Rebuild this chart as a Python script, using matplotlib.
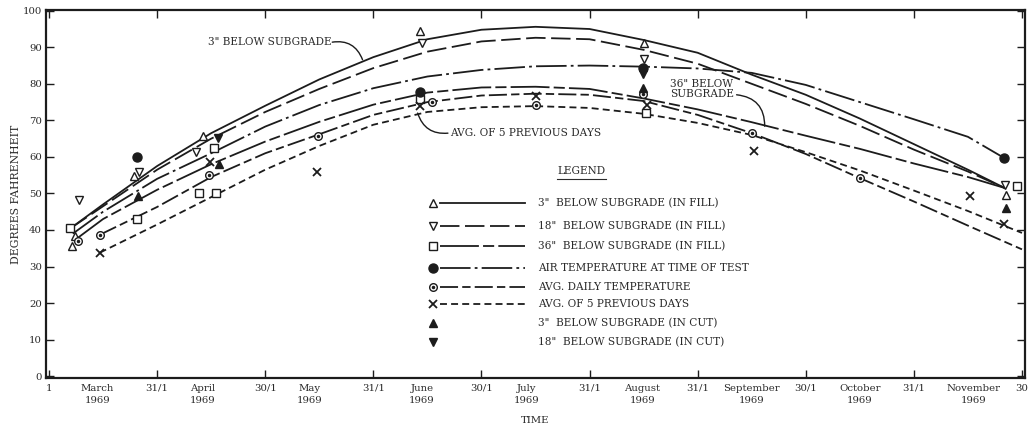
import matplotlib
matplotlib.use("Agg")
import matplotlib.pyplot as plt

plt.rcParams['font.family'] = ['DejaVu Serif', 'Liberation Serif']
plt.rcParams['lines.scale_dashes'] = False

INK = '#1c1c1c'
TXT = '#2a2a2a'

# x is measured in months after 1 March 1969 (0 = Mar 1, 9 = Nov 30)
month_edges = list(range(10))
edge_labels = ['1', '31/1', '30/1', '31/1', '30/1', '31/1', '31/1', '30/1', '31/1', '30']
month_names = ['March', 'April', 'May', 'June', 'July', 'August',
               'September', 'October', 'November']
month_label_pos = [0.45, 1.42, 2.41, 3.45, 4.42, 5.49, 6.50, 7.50, 8.55]
yticks = list(range(0, 101, 10))

# fitted temperature curves (deg F)
grid_m = [0.5, 1.0, 1.5, 2.0, 2.5, 3.0, 3.5, 4.0, 4.5, 5.0, 5.5, 6.0, 6.5, 7.0, 7.5, 8.0, 8.5]

fill3_m = [0.20] + grid_m + [8.84]
fill3_t = [40.5, 47.0, 57.5, 66.5, 74.0, 81.2, 87.3, 92.2, 94.8, 95.6, 95.0, 92.0,
           88.5, 82.5, 77.0, 70.5, 63.5, 56.5, 51.5]

fill18_m = [0.20] + grid_m + [8.84]
fill18_t = [40.5, 46.5, 56.5, 65.0, 72.3, 78.6, 84.3, 88.8, 91.6, 92.6, 92.2, 89.3,
            85.5, 80.0, 74.5, 68.5, 62.0, 56.0, 51.5]

fill36_m = [0.25] + grid_m + [8.84]
fill36_t = [37.5, 43.0, 51.0, 58.0, 64.2, 69.6, 74.3, 77.6, 79.0, 79.2, 78.6, 76.0,
            73.0, 69.5, 65.8, 62.2, 58.2, 54.5, 51.5]

air_m = [0.22] + grid_m + [8.83]
air_t = [39.0, 45.0, 54.0, 61.0, 68.3, 74.2, 78.8, 82.0, 83.8, 84.8, 85.0, 84.7,
         84.2, 83.0, 79.7, 75.0, 70.3, 65.5, 59.8]

daily_m = [0.47] + grid_m[1:] + [9.0]
daily_t = [38.7, 46.3, 54.5, 61.0, 66.2, 71.5, 75.0, 76.8, 77.3, 77.0, 75.3, 71.5,
           66.5, 60.8, 54.2, 47.8, 41.2, 34.7]

prev5_m = [0.47] + grid_m[1:] + [9.0]
prev5_t = [33.8, 41.5, 49.0, 56.5, 63.0, 68.8, 72.3, 73.6, 73.9, 73.4, 71.8, 69.3,
           66.0, 61.3, 56.3, 50.8, 45.2, 39.2]

# individual test readings
pt_fill3_m = [0.21, 0.24, 0.79, 1.42, 3.43, 5.50, 8.85]
pt_fill3_t = [35.5, 38.4, 54.8, 65.8, 94.5, 91.3, 49.5]
pt_fill18_m = [0.28, 0.83, 1.36, 3.45, 5.50, 8.84]
pt_fill18_t = [48.2, 55.8, 61.3, 91.3, 86.8, 52.2]
pt_fill36_m = [0.19, 0.81, 1.39, 1.53, 1.54, 3.43, 5.52, 8.95]
pt_fill36_t = [40.5, 42.9, 50.2, 62.5, 50.2, 75.9, 71.9, 52.1]
pt_air_m = [0.81, 3.43, 5.49, 8.83]
pt_air_t = [60.1, 77.8, 84.4, 59.8]
pt_daily_m = [0.27, 0.47, 1.48, 2.49, 3.54, 4.50, 5.49, 6.50, 7.50]
pt_daily_t = [37.0, 38.7, 55.1, 65.6, 75.1, 74.2, 77.3, 66.5, 54.2]
pt_prev5_m = [0.47, 1.49, 2.48, 3.43, 4.50, 5.53, 6.52, 8.52, 8.83]
pt_prev5_t = [33.8, 58.6, 55.8, 73.8, 76.8, 74.1, 61.5, 49.3, 41.6]
pt_cut3_m = [0.82, 1.57, 5.49, 8.85]
pt_cut3_t = [49.3, 58.0, 78.8, 46.1]
pt_cut18_m = [1.56, 5.49]
pt_cut18_t = [65.2, 82.7]

legend_labels = ['3"  BELOW SUBGRADE (IN FILL)',
                 '18"  BELOW SUBGRADE (IN FILL)',
                 '36"  BELOW SUBGRADE (IN FILL)',
                 'AIR TEMPERATURE AT TIME OF TEST',
                 'AVG. DAILY TEMPERATURE',
                 'AVG. OF 5 PREVIOUS DAYS',
                 '3"  BELOW SUBGRADE (IN CUT)',
                 '18"  BELOW SUBGRADE (IN CUT)']

# line styles (on/off in points)
LS_FILL3 = '-'
LS_FILL18 = (0, (14, 4))
LS_FILL36 = (0, (28, 3, 8, 3))
LS_AIR = (0, (22, 3, 2, 3))
LS_DAILY = (0, (13, 3, 6, 3))
LS_PREV5 = (0, (5, 3))

LW = 1.3
FS = 7.6

fig = plt.figure(figsize=(10.30, 4.32), dpi=100)
ax = fig.add_axes([46 / 1030, (432 - 378) / 432, (1025 - 46) / 1030, (378 - 10) / 432])

ax.plot(fill3_m, fill3_t, color=INK, lw=LW, ls=LS_FILL3)
ax.plot(fill18_m, fill18_t, color=INK, lw=LW, ls=LS_FILL18)
ax.plot(fill36_m, fill36_t, color=INK, lw=LW, ls=LS_FILL36)
ax.plot(air_m, air_t, color=INK, lw=LW, ls=LS_AIR)
ax.plot(daily_m, daily_t, color=INK, lw=LW, ls=LS_DAILY)
ax.plot(prev5_m, prev5_t, color=INK, lw=LW, ls=LS_PREV5)

open_kw = dict(ls='none', mfc='white', mec=INK, mew=1.0, zorder=4)
ax.plot(pt_fill3_m, pt_fill3_t, marker='^', ms=6, **open_kw)
ax.plot(pt_fill18_m, pt_fill18_t, marker='v', ms=6, **open_kw)
ax.plot(pt_fill36_m, pt_fill36_t, marker='s', ms=5.5, **open_kw)
ax.plot(pt_daily_m, pt_daily_t, marker='o', ms=5.5, **open_kw)
ax.plot(pt_daily_m, pt_daily_t, marker='o', ms=1.5, ls='none', color=INK, zorder=5)
ax.plot(pt_prev5_m, pt_prev5_t, marker='x', ms=5.5, mew=1.3, ls='none', color=INK, zorder=4)
ax.plot(pt_air_m, pt_air_t, marker='o', ms=6.5, ls='none', color=INK, zorder=4)
ax.plot(pt_cut3_m, pt_cut3_t, marker='^', ms=6, ls='none', color=INK, zorder=4)
ax.plot(pt_cut18_m, pt_cut18_t, marker='v', ms=6, ls='none', color=INK, zorder=4)

ax.set_xlim(-0.028, 9.028)
ax.set_ylim(-0.5, 100.2)

# axes frame and ticks
for sp in ax.spines.values():
    sp.set_linewidth(1.6)
    sp.set_color(INK)
ax.set_xticks(month_edges)
ax.set_xticklabels(edge_labels)
ax.set_xticks(month_label_pos, minor=True)
ax.set_xticklabels([f'{n}\n1969' for n in month_names], minor=True)
ax.set_yticks(yticks)
ax.set_yticklabels([str(v) for v in yticks])
ax.tick_params(which='major', direction='in', length=6, width=1.0, color=INK,
               top=True, right=True, labelsize=7.3, labelcolor=TXT, pad=4)
ax.tick_params(axis='y', which='major', pad=3)
ax.tick_params(axis='x', which='minor', length=0, labelsize=7.3, labelcolor=TXT, pad=4)
for lab in ax.get_xticklabels(minor=True):
    lab.set_linespacing(1.5)
ax.set_xlabel('TIME', fontsize=7.3, color=TXT)
ax.xaxis.set_label_coords(0.5, -0.104)
ax.set_ylabel('DEGREES FAHRENHEIT', fontsize=7.8, color=TXT)
ax.yaxis.set_label_coords(-0.026, 0.5)

# curve call-outs
txt_kw = dict(fontsize=FS, color=TXT)
lead_kw = dict(arrowstyle='-', color=INK, lw=1.0, shrinkA=0, shrinkB=0)
ax.text(2.61, 91.4, '3" BELOW SUBGRADE', ha='right', va='center', **txt_kw)
ax.annotate('', xy=(2.90, 86.6), xytext=(2.62, 91.4),
            arrowprops=dict(connectionstyle='arc3,rad=-0.4', **lead_kw))
ax.text(5.745, 78.6, '36" BELOW\nSUBGRADE', ha='left', va='center',
        linespacing=1.05, **txt_kw)
ax.annotate('', xy=(6.62, 68.4), xytext=(6.36, 77.0),
            arrowprops=dict(connectionstyle='arc3,rad=-0.45', **lead_kw))
ax.text(3.71, 66.5, 'AVG. OF 5 PREVIOUS DAYS', ha='left', va='center', **txt_kw)
ax.annotate('', xy=(3.41, 72.0), xytext=(3.69, 66.5),
            arrowprops=dict(connectionstyle='arc3,rad=-0.4', **lead_kw))

# legend block
tr = ax.transAxes
ax.text(0.547, 0.5625, 'LEGEND', ha='center', va='center', transform=tr, **txt_kw)
ax.plot([0.522, 0.572], [0.540, 0.540], color=TXT, lw=0.8, transform=tr)
rows_y = [0.4755, 0.413, 0.3587, 0.299, 0.247, 0.201, 0.150, 0.0986]
styles = [LS_FILL3, LS_FILL18, LS_FILL36, LS_AIR, LS_DAILY, LS_PREV5, None, None]
mk_x, ln_x0, ln_x1, tx_x = 0.3953, 0.4025, 0.4893, 0.5026
for i, (y, ls, label) in enumerate(zip(rows_y, styles, legend_labels)):
    if ls is not None:
        ax.plot([ln_x0, ln_x1], [y, y], color=INK, lw=LW, ls=ls, transform=tr)
    ax.text(tx_x, y, label, ha='left', va='center', transform=tr, **txt_kw)
legend_marks = [
    dict(marker='^', ms=6, mfc='white', mec=INK, mew=1.0),
    dict(marker='v', ms=6, mfc='white', mec=INK, mew=1.0),
    dict(marker='s', ms=5.5, mfc='white', mec=INK, mew=1.0),
    dict(marker='o', ms=6.5, color=INK),
    dict(marker='o', ms=5.5, mfc='white', mec=INK, mew=1.0),
    dict(marker='x', ms=5.5, mew=1.3, color=INK),
    dict(marker='^', ms=6, color=INK),
    dict(marker='v', ms=6, color=INK),
]
for y, mk in zip(rows_y, legend_marks):
    ax.plot([mk_x], [y], ls='none', transform=tr, clip_on=False, **mk)
ax.plot([mk_x], [rows_y[4]], ls='none', marker='o', ms=1.5, color=INK, transform=tr)

fig.savefig('out.png', dpi=100, facecolor='white')
